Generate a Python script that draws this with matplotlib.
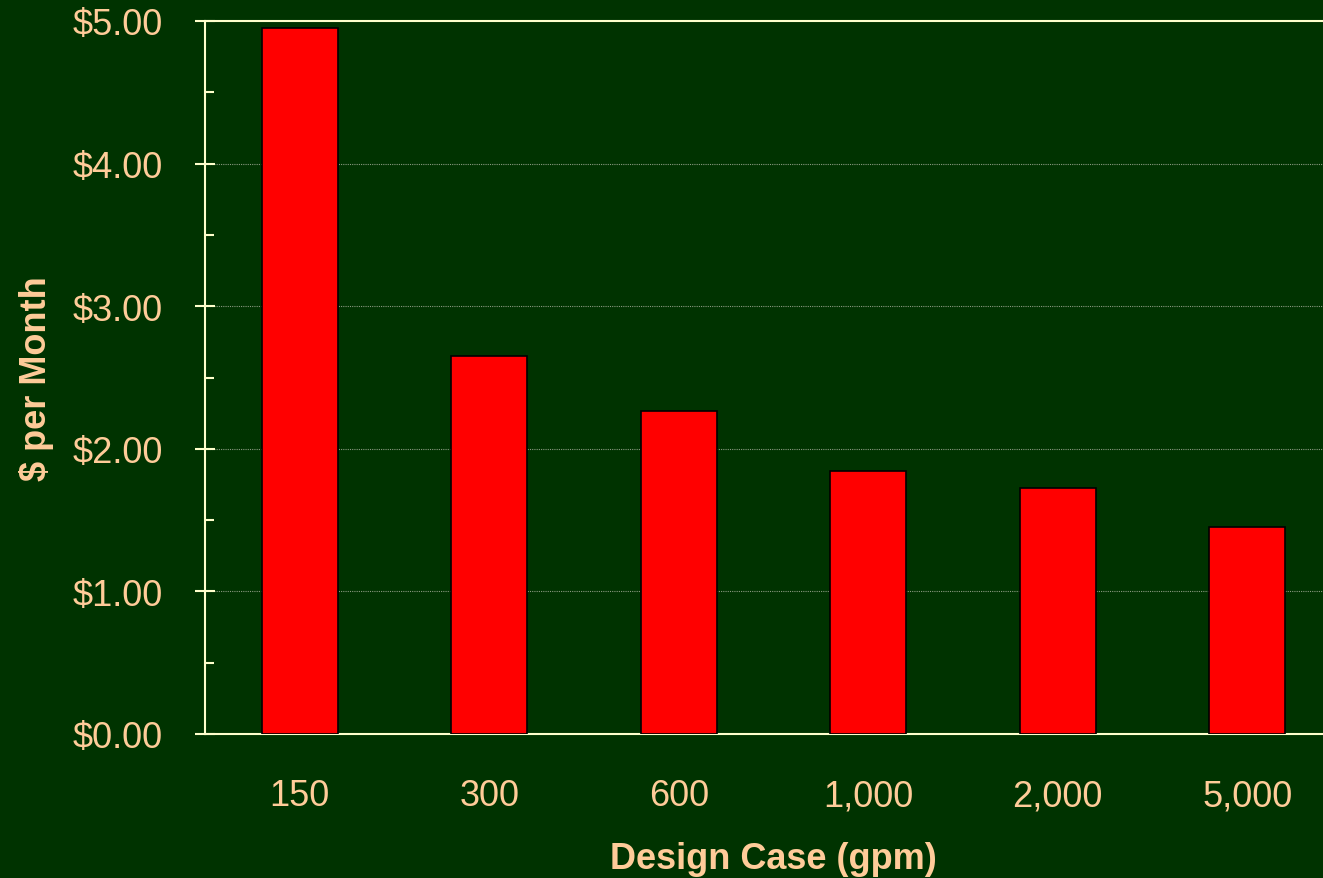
import numpy as np
import matplotlib
matplotlib.use("Agg")
import matplotlib.pyplot as plt
from matplotlib.ticker import MultipleLocator, FuncFormatter

categories = ["150", "300", "600", "1,000", "2,000", "5,000"]
values = [4.95, 2.65, 2.265, 1.845, 1.725, 1.455]

bg = "#003300"
txt = "#FFCC99"
line = "#FFFFCC"

plt.rcParams["font.family"] = ["Liberation Sans", "DejaVu Sans"]

fig = plt.figure(figsize=(13.23, 8.79), dpi=100, facecolor=bg)
ax = fig.add_axes([205 / 1323, 1 - 735 / 879, (1342 - 205) / 1323, (735 - 22) / 879])
ax.set_facecolor(bg)

x = np.arange(len(categories))
ax.bar(x, values, width=0.4, color="#FF0000", edgecolor="black", linewidth=1.2, zorder=3)

ax.set_xlim(-0.5, len(categories) - 0.5)
ax.set_ylim(0, 5)
ax.yaxis.set_major_locator(MultipleLocator(1))
ax.yaxis.set_minor_locator(MultipleLocator(0.5))
ax.yaxis.set_major_formatter(FuncFormatter(lambda v, p: f"${v:.2f}"))
ax.set_xticks(x)
ax.set_xticklabels(categories)

for v in [1, 2, 3, 4]:
    ax.axhline(v, color="#8a9a80", linewidth=0.8, linestyle=(0, (1, 1)), zorder=1)

for s in ["left", "bottom", "top"]:
    ax.spines[s].set_color(line)
    ax.spines[s].set_linewidth(1.5)
ax.spines["right"].set_visible(False)

ax.tick_params(axis="y", which="major", direction="inout", length=15, width=1.5,
               color=line, labelcolor=txt, labelsize=26, pad=23)
ax.tick_params(axis="y", which="minor", direction="in", length=6.5, width=1.5, color=line)
ax.tick_params(axis="x", length=0, labelcolor=txt, labelsize=26, pad=32)

ax.set_xlabel("Design Case (gpm)", color=txt, fontsize=26, fontweight="bold", labelpad=20)
ax.set_ylabel("$ per Month", color=txt, fontsize=26, fontweight="bold", labelpad=13)

fig.savefig("out.png", dpi=100, facecolor=bg)
